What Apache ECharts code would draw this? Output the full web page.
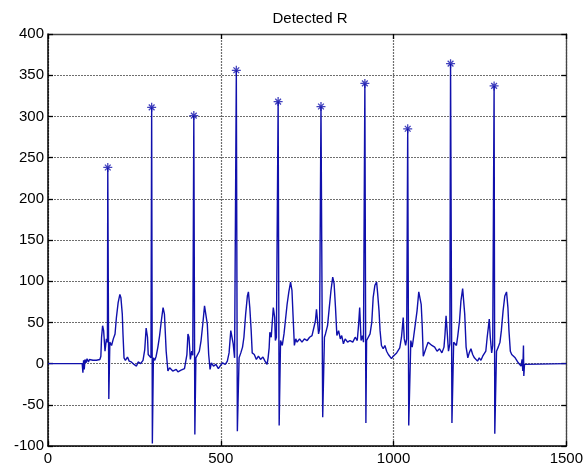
<!DOCTYPE html>
<html>
<head>
<meta charset="utf-8">
<title>Detected R</title>
<script src="https://cdn.jsdelivr.net/npm/echarts@6/dist/echarts.min.js"></script>
<style>
  html, body { margin: 0; padding: 0; background: #fff; }
  #chart { width: 586px; height: 470px; }
</style>
</head>
<body>
<div id="chart"></div>
<script>
// ECG trace (sample index, amplitude)
const ecgX = [0, 99, 100, 101, 103, 105, 107, 110, 113, 117, 120, 125, 130, 135, 140, 145, 150,
  153, 155, 158, 161, 165, 169, 172, 173, 176, 179, 184, 189, 194, 198, 203, 208, 211, 215, 217, 220, 224, 230, 235, 241, 249, 256, 261, 268, 275,
  280, 284, 288, 290, 295, 298, 300, 302, 305, 309, 313, 318, 323, 328, 333, 337, 342, 347, 352, 356, 361, 364, 371, 376, 380, 385, 390, 395, 398,
  402, 405, 408, 412, 416, 419, 422, 425, 428, 433, 438, 443, 448, 453, 457, 461, 465, 469, 473, 479, 486, 493, 498, 505, 513, 519,
  524, 529, 532, 536, 540, 543, 545, 548, 553, 558, 563, 567, 572, 577, 580, 584, 588, 591, 597, 603, 609, 615, 622, 628, 634,
  637, 640, 642, 646, 652, 656, 658, 661, 666, 669, 673, 678, 683, 687, 692, 697, 702, 706, 709, 713, 717, 721, 728, 735, 742, 750, 757, 764, 769,
  774, 777, 780, 783, 786, 790, 795, 800, 803, 809, 814, 819, 824, 828, 832, 836, 841, 846, 850, 855, 860, 867, 874, 882, 889, 895,
  899, 902, 906, 910, 913, 917, 920, 922, 927, 932, 937, 941, 946, 951, 954, 958, 961, 965, 970, 975, 980, 985, 989, 994, 999, 1004, 1009, 1013,
  1018, 1023, 1026, 1028, 1031, 1035, 1038, 1041, 1044, 1050, 1054, 1058, 1063, 1068, 1073, 1077, 1080, 1083, 1086, 1090, 1095, 1100, 1104, 1111, 1119, 1126, 1133, 1140,
  1146, 1149, 1152, 1155, 1159, 1163, 1165, 1169, 1174, 1178, 1182, 1186, 1191, 1195, 1200, 1203, 1206, 1210, 1215, 1219, 1224, 1229, 1234, 1239, 1243, 1248, 1253, 1258, 1263,
  1267, 1271, 1275, 1277, 1280, 1284, 1287, 1291, 1293, 1298, 1303, 1308, 1312, 1317, 1322, 1327, 1331, 1334, 1338, 1342, 1347, 1352, 1356, 1361, 1366, 1369, 1372, 1374, 1376, 1377, 1379, 1380, 1500]
const ecgY = [0, 0, -2, -11, 4, -7, 5, 1, 6, 2, 5, 3, 4, 2, 4, 3, 5,
  9, 32, 46, 40, 15, 30, 26, 238, -43, 26, 22, 30, 36, 56, 74, 84, 80, 60, 36, 7, 4, 8, 3, 2, -1, -3, 2, 0, 4,
  17, 43, 32, 11, 13, 7, 311, -97, 7, 4, 9, 20, 34, 52, 68, 60, 15, -9, -5, -3, -9, -8, -7, -10, -11, -8, -9, -6, -5,
  11, 36, 32, 5, 15, 10, 301, -86, 7, 9, 15, 28, 48, 70, 72, 48, 11, -7, 1, -3, -1, -6, -3, 1, -1, 3,
  13, 40, 42, 24, 7, 9, 356, -82, 7, 13, 20, 32, 60, 82, 87, 68, 40, 13, 11, 5, 9, 5, 8, 3, -1,
  7, 19, 38, 32, 68, 56, 28, 32, 318, -75, 28, 22, 36, 52, 72, 87, 99, 89, 60, 22, 30, 26, 30, 26, 30, 28, 32, 34, 32,
  52, 66, 52, 36, 42, 312, -65, 32, 36, 46, 68, 89, 105, 97, 68, 34, 40, 30, 34, 24, 30, 26, 28, 26, 32, 28,
  48, 68, 28, 34, 26, 340, -72, 28, 26, 36, 50, 80, 95, 99, 85, 64, 40, 22, 18, 22, 15, 11, 9, 6, 9, 11, 13, 15,
  19, 32, 46, 56, 30, 22, 30, 285, -75, 28, 20, 32, 48, 64, 87, 89, 72, 46, 9, 11, 20, 26, 28, 22, 20, 15, 18, 13,
  20, 36, 58, 40, 15, 24, 364, -72, 26, 28, 22, 34, 52, 76, 91, 89, 60, 20, 7, 13, 18, 11, 7, 9, 3, 7, 4, 9, 7,
  15, 32, 46, 54, 32, 13, 22, 337, -85, 15, 20, 26, 40, 64, 82, 87, 68, 40, 15, 11, 13, 7, 7, 1, 3, -3, 5, -9, 22, -15, -1, 0, 0]

// detected R peaks (stars)
const peakX = [173, 300, 422, 545, 666, 790, 917, 1041, 1165, 1291]
const peakY = [238, 311, 301, 356, 318, 312, 340, 285, 364, 337]

const xTicks = { min: 0, max: 1500, step: 500 }
const yTicks = { min: -100, max: 400, step: 50 }

const lineColor = '#1010ac'
const font = 'Liberation Sans, Arial, Helvetica, sans-serif'
const asterisk = 'path://M4.3,0H5.7V10H4.3Z M0,4.3H10V5.7H0Z M1.3,2.3L2.3,1.3L8.7,7.7L7.7,8.7Z M7.7,1.3L8.7,2.3L2.3,8.7L1.3,7.7Z'

const chart = echarts.init(document.getElementById('chart'), null, { renderer: 'canvas' })

const gridDots = { show: true, lineStyle: { color: '#6e6e6e', width: 1.2, type: [2, 1] } }
const mainLine = { show: true, onZero: false, lineStyle: { color: '#000', width: 1.5 } }
const farLine = { show: true, onZero: false, lineStyle: { color: '#444', width: 1.3 } }
const inTick = { show: true, inside: true, length: 5, lineStyle: { color: '#000', width: 1.3 } }
const tickLabel = { color: '#000', fontFamily: font, fontSize: 15, formatter: v => String(v) }

chart.setOption({
  animation: false,
  backgroundColor: '#fff',
  title: {
    text: 'Detected R',
    left: 305,
    top: 6,
    textAlign: 'center',
    textStyle: { fontFamily: font, fontSize: 15, fontWeight: 'normal', color: '#000' },
  },
  grid: { left: 48, right: 17, top: 34, bottom: 24, containLabel: false },
  xAxis: [
    {
      type: 'value', min: xTicks.min, max: xTicks.max, interval: xTicks.step,
      axisLine: mainLine, axisTick: inTick, splitLine: gridDots,
      axisLabel: { ...tickLabel, margin: 5 },
    },
    {
      type: 'value', position: 'top', min: xTicks.min, max: xTicks.max, interval: xTicks.step,
      axisLine: farLine, axisTick: inTick, splitLine: { show: false }, axisLabel: { show: false },
    },
  ],
  yAxis: [
    {
      type: 'value', min: yTicks.min, max: yTicks.max, interval: yTicks.step,
      axisLine: mainLine, axisTick: inTick, splitLine: gridDots,
      axisLabel: { ...tickLabel, margin: 4 },
    },
    {
      type: 'value', position: 'right', min: yTicks.min, max: yTicks.max, interval: yTicks.step,
      axisLine: farLine, axisTick: inTick, splitLine: { show: false }, axisLabel: { show: false },
    },
  ],
  series: [
    {
      type: 'line',
      data: ecgX.map((x, i) => [x, ecgY[i]]),
      showSymbol: false,
      symbol: 'none',
      lineStyle: { color: lineColor, width: 1.4 },
      z: 3,
    },
    {
      type: 'scatter',
      data: peakX.map((x, i) => [x, peakY[i]]),
      symbol: asterisk,
      symbolSize: 9,
      itemStyle: { color: lineColor },
      z: 4,
    },
  ],
})
</script>
</body>
</html>
